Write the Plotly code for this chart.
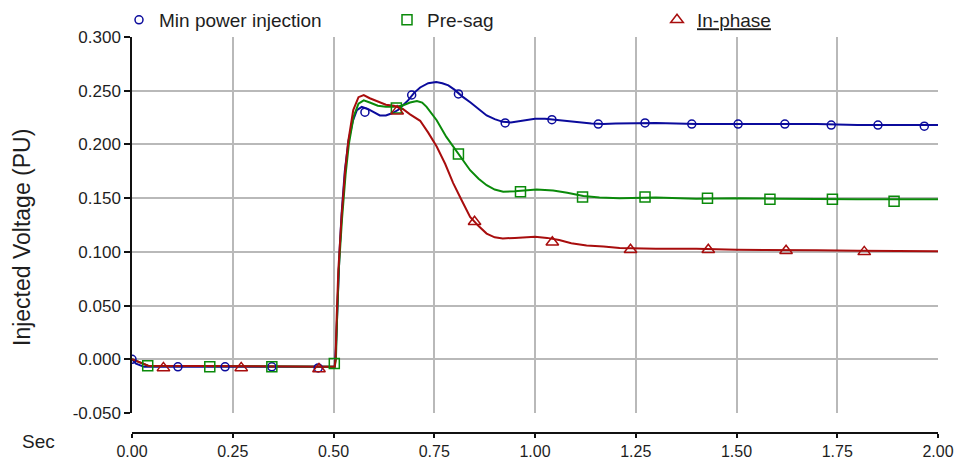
import plotly.graph_objects as go

# ---- data ----
blue_t = [0.0, 0.01, 0.03, 0.503, 0.506, 0.510, 0.515, 0.520, 0.528, 0.537, 0.548, 0.558, 0.570, 0.585,
          0.600, 0.615, 0.630, 0.645, 0.660, 0.672, 0.685, 0.700, 0.715, 0.735, 0.755, 0.770, 0.785,
          0.800, 0.820, 0.840, 0.860, 0.880, 0.900, 0.920, 0.940, 0.960, 0.980, 1.000, 1.025, 1.050,
          1.080, 1.110, 1.140, 1.170, 1.200, 1.300, 1.400, 1.500, 1.600, 1.700, 1.800, 1.900, 2.000]
blue_v = [0.000, -0.004, -0.007, -0.007, 0.010, 0.060, 0.100, 0.135, 0.175, 0.203, 0.222, 0.232, 0.235, 0.233,
          0.230, 0.227, 0.227, 0.229, 0.232, 0.236, 0.241, 0.248, 0.253, 0.257, 0.258, 0.257, 0.255,
          0.251, 0.2445, 0.239, 0.233, 0.227, 0.2235, 0.221, 0.2205, 0.2215, 0.2225, 0.224, 0.224, 0.223,
          0.222, 0.2205, 0.2195, 0.219, 0.2195, 0.220, 0.219, 0.219, 0.219, 0.219, 0.218, 0.218, 0.218]

green_t = [0.0, 0.04, 0.503, 0.506, 0.509, 0.513, 0.521, 0.530, 0.538, 0.550, 0.562, 0.575, 0.590, 0.610,
           0.630, 0.650, 0.670, 0.690, 0.707, 0.720, 0.731, 0.756, 0.780, 0.812, 0.839, 0.860, 0.880,
           0.900, 0.921, 0.950, 0.980, 1.004, 1.045, 1.080, 1.120, 1.160, 1.210, 1.300, 1.400, 1.500,
           1.600, 1.700, 1.800, 1.900, 2.000]
green_v = [0.000, -0.006, -0.007, 0.000, 0.040, 0.083, 0.130, 0.172, 0.200, 0.226, 0.238, 0.241, 0.239, 0.236,
           0.235, 0.235, 0.236, 0.239, 0.2405, 0.239, 0.235, 0.2225, 0.207, 0.190, 0.176, 0.168, 0.162,
           0.158, 0.156, 0.1565, 0.1575, 0.158, 0.157, 0.155, 0.152, 0.1505, 0.150, 0.1505, 0.1495, 0.150,
           0.1495, 0.149, 0.149, 0.149, 0.149]

red_t = [0.0, 0.04, 0.503, 0.505, 0.508, 0.512, 0.520, 0.529, 0.537, 0.549, 0.562, 0.575, 0.590, 0.610,
         0.630, 0.650, 0.672, 0.690, 0.715, 0.735, 0.756, 0.777, 0.797, 0.818, 0.839, 0.860, 0.880,
         0.900, 0.920, 0.950, 0.980, 1.000, 1.030, 1.060, 1.090, 1.128, 1.170, 1.210, 1.300, 1.400,
         1.500, 1.600, 1.700, 1.800, 1.900, 2.000]
red_v = [0.000, -0.006, -0.007, 0.000, 0.040, 0.083, 0.1325, 0.176, 0.204, 0.232, 0.244, 0.246, 0.243, 0.240,
         0.237, 0.236, 0.233, 0.228, 0.222, 0.211, 0.198, 0.182, 0.164, 0.148, 0.1325, 0.124, 0.117,
         0.1135, 0.1125, 0.113, 0.1135, 0.114, 0.113, 0.111, 0.108, 0.106, 0.105, 0.1036, 0.103, 0.103,
         0.102, 0.102, 0.1015, 0.101, 0.101, 0.1005]

blue_mk_t = [0.0, 0.114, 0.231, 0.347, 0.462, 0.578, 0.694, 0.810, 0.926, 1.042, 1.157, 1.273, 1.389,
             1.504, 1.620, 1.735, 1.851, 1.966]
blue_mk_v = [0.000, -0.007, -0.007, -0.007, -0.008, 0.230, 0.246, 0.247, 0.220, 0.223, 0.219, 0.220, 0.219,
             0.219, 0.219, 0.218, 0.218, 0.217]

green_mk_t = [0.039, 0.193, 0.347, 0.502, 0.656, 0.810, 0.964, 1.118, 1.273, 1.428, 1.583, 1.738, 1.891]
green_mk_v = [-0.006, -0.007, -0.007, -0.004, 0.234, 0.191, 0.156, 0.151, 0.151, 0.150, 0.149, 0.149, 0.147]

red_mk_t = [0.078, 0.271, 0.464, 0.658, 0.850, 1.043, 1.237, 1.430, 1.623, 1.817]
red_mk_v = [-0.008, -0.008, -0.009, 0.231, 0.128, 0.109, 0.102, 0.102, 0.101, 0.100]

series_names = ["Min power injection", "Pre-sag", "<u>In-phase</u>"]

x_ticks = [0, 0.25, 0.5, 0.75, 1.0, 1.25, 1.5, 1.75, 2.0]
x_ticktext = ["0.00", "0.25", "0.50", "0.75", "1.00", "1.25", "1.50", "1.75", "2.00"]
y_ticks = [-0.05, 0.0, 0.05, 0.10, 0.15, 0.20, 0.25, 0.30]
y_ticktext = ["-0.050", "0.000", "0.050", "0.100", "0.150", "0.200", "0.250", "0.300"]

BLUE = "#0b0b9c"
GREEN = "#0a8a0a"
RED = "#a80d0d"
FONT = "Liberation Sans, Arial, sans-serif"
TXT = "#1e1e1e"

fig = go.Figure()

for t, v, c in [(blue_t, blue_v, BLUE), (green_t, green_v, GREEN), (red_t, red_v, RED)]:
    fig.add_trace(go.Scatter(x=t, y=v, mode="lines", line=dict(color=c, width=2),
                             showlegend=False, hoverinfo="skip"))

fig.add_trace(go.Scatter(x=blue_mk_t, y=blue_mk_v, mode="markers", name=series_names[0],
                         marker=dict(symbol="circle-open", size=8, color=BLUE, line=dict(width=1.5)),
                         legend="legend"))
fig.add_trace(go.Scatter(x=green_mk_t, y=green_mk_v, mode="markers", name=series_names[1],
                         marker=dict(symbol="square-open", size=10, color=GREEN, line=dict(width=1.5)),
                         legend="legend2"))
fig.add_trace(go.Scatter(x=red_mk_t, y=red_mk_v, mode="markers", name=series_names[2],
                         marker=dict(symbol="triangle-up-open", size=11, color=RED, line=dict(width=1.5)),
                         legend="legend3"))

W, H = 954, 462


def py(p):
    return 1 - p / H


def px(p):
    return p / W


leg_common = dict(orientation="h", yanchor="middle", y=py(20), xanchor="left",
                  font=dict(family=FONT, size=19, color=TXT), bgcolor="rgba(0,0,0,0)",
                  borderwidth=0, itemclick=False)

fig.update_layout(
    width=W, height=H,
    margin=dict(l=0, r=0, t=0, b=0, autoexpand=False),
    paper_bgcolor="white", plot_bgcolor="white",
    font=dict(family=FONT, size=17, color=TXT),
    legend=dict(x=px(119), **leg_common),
    legend2=dict(x=px(387), **leg_common),
    legend3=dict(x=px(657), **leg_common),
    xaxis=dict(range=[0, 2], tickvals=x_ticks, ticktext=x_ticktext,
               domain=[px(132), px(938)],
               anchor="free", position=py(433),
               showgrid=True, gridcolor="#b9b9b9", gridwidth=2,
               zeroline=False, showline=True, linecolor="#111", linewidth=1.5,
               ticks="outside", ticklen=4, tickcolor="#111", tickwidth=1.5,
               ticklabeloverflow="allow",
               tickfont=dict(family=FONT, size=16, color=TXT), automargin=False),
    yaxis=dict(range=[-0.05, 0.3], tickvals=y_ticks, ticktext=y_ticktext,
               domain=[py(413), py(37)],
               showgrid=True, gridcolor="#b9b9b9", gridwidth=2,
               zeroline=False, showline=True, linecolor="#111", linewidth=1.5,
               ticks="outside", ticklen=6, tickcolor="#111", tickwidth=1.5,
               tickfont=dict(family=FONT, size=17, color=TXT), automargin=False),
    annotations=[
        dict(text="Injected Voltage (PU)", xref="paper", yref="paper", x=px(22), y=py(238),
             xanchor="center", yanchor="middle", textangle=-90, showarrow=False,
             font=dict(family=FONT, size=23, color=TXT)),
        dict(text="Sec", xref="paper", yref="paper", x=px(38), y=py(441),
             xanchor="center", yanchor="middle", showarrow=False,
             font=dict(family=FONT, size=19, color=TXT)),
    ],
)

fig.write_html("out.html", config={"displayModeBar": False},
               post_script="document.body.style.margin='0px';document.body.style.overflow='hidden';")
